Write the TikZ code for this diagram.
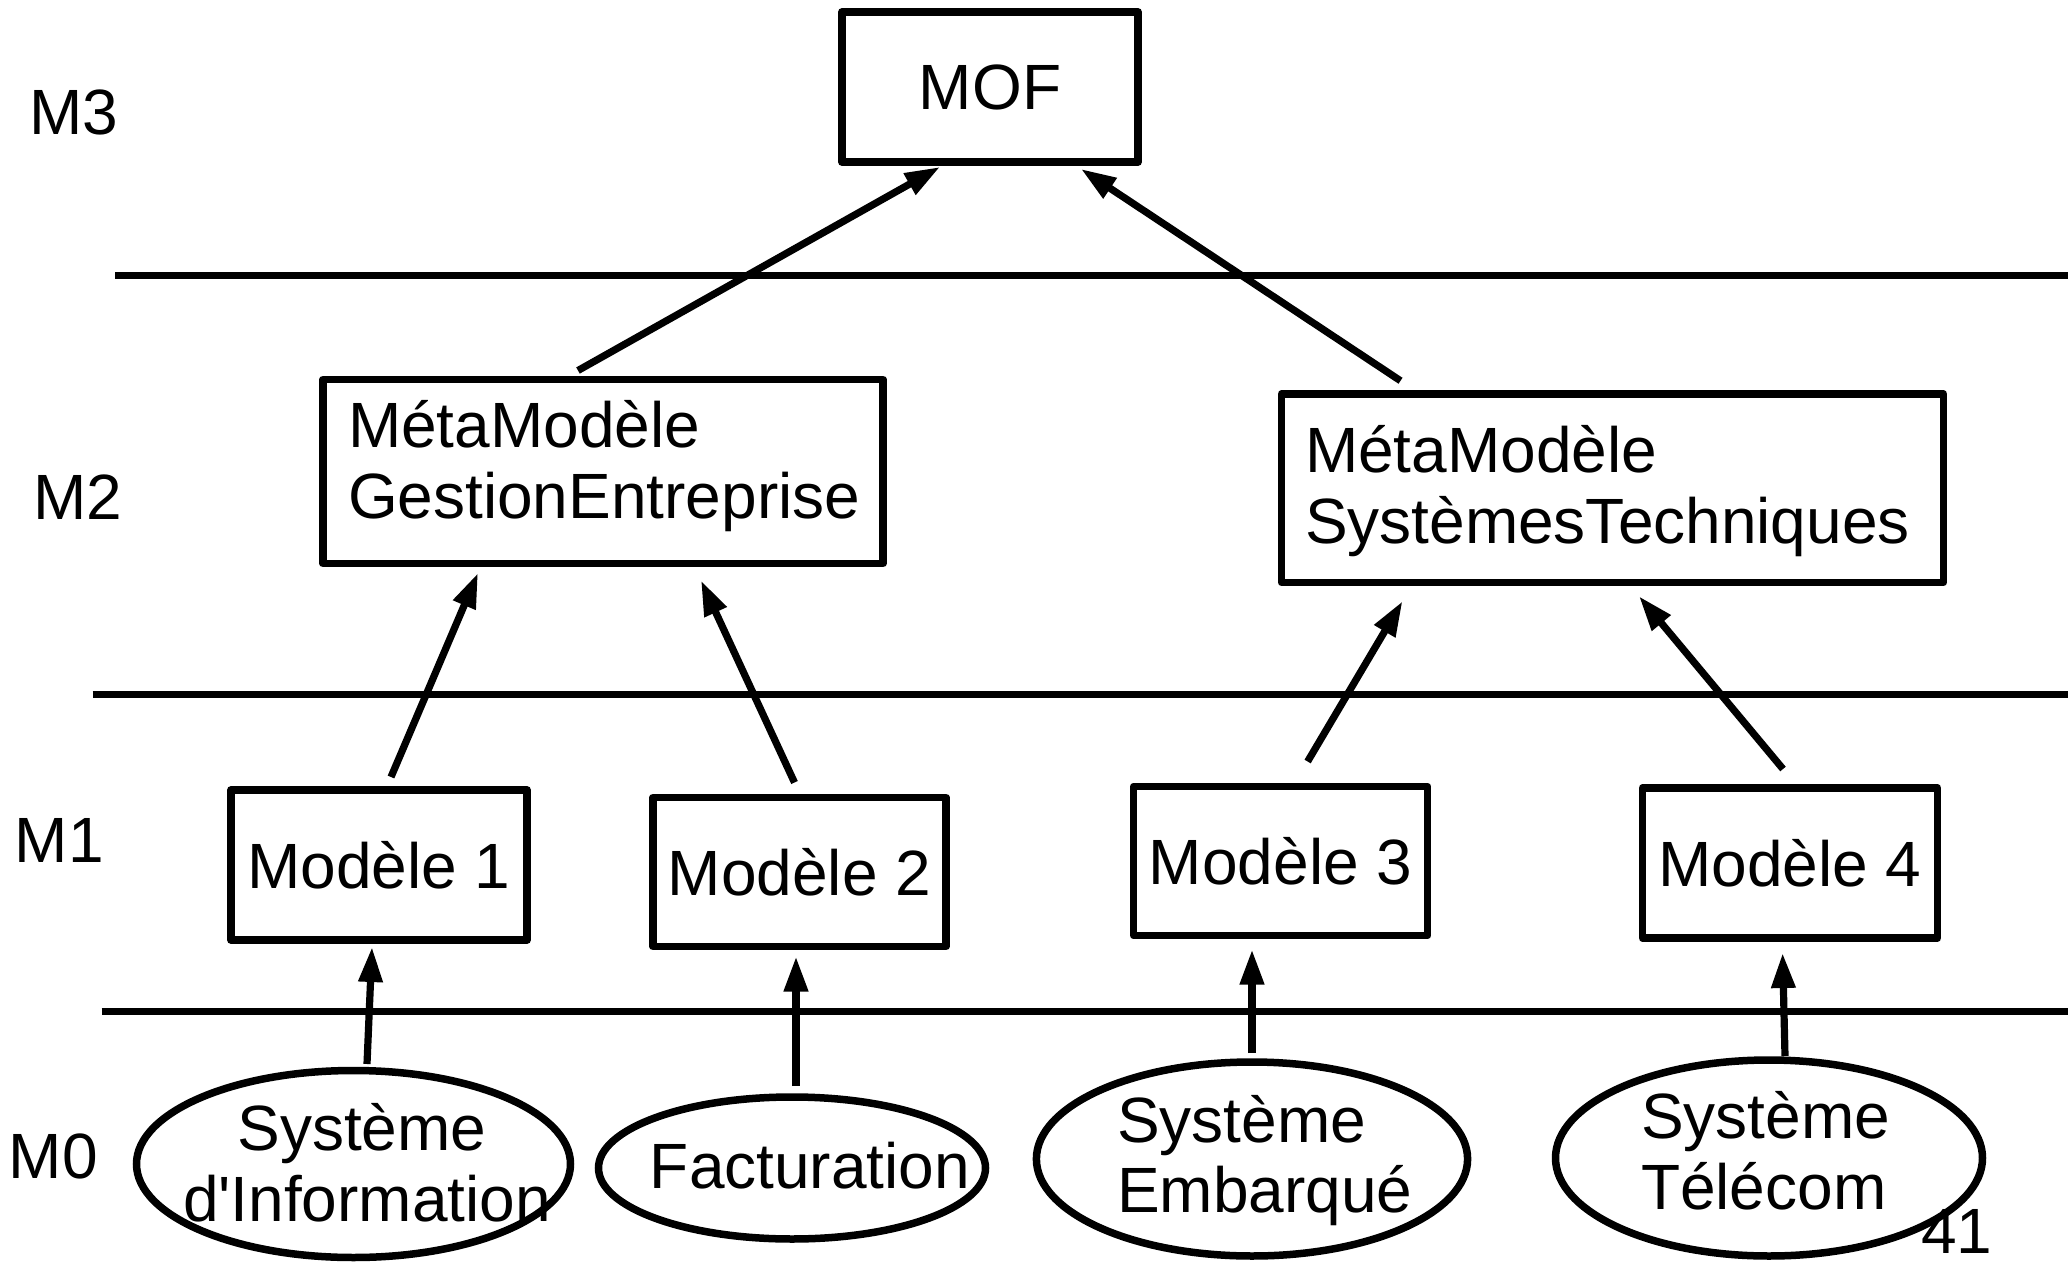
\documentclass[tikz,border=0pt]{standalone}
\usepackage{fontspec}
\setmainfont{Liberation Sans}[Ligatures=TeXOff]
\usetikzlibrary{arrows.meta,shapes.geometric}
\begin{document}
\begin{tikzpicture}[x=0.5pt,y=-0.5pt,
  every node/.style={font=\fontsize{32}{35.5}\selectfont},
  box/.style={draw, rectangle, line width=3.75pt, line join=round, inner sep=0pt, outer sep=0pt},
  oval/.style={draw, ellipse, line width=3.75pt, inner sep=0pt, outer sep=0pt},
  txt/.style={inner sep=0pt, outer sep=0pt, anchor=base west},
  ctxt/.style={inner sep=0pt, outer sep=0pt, anchor=base},
  arr/.style={line width=3.6pt, -{Triangle[length=17.5pt,width=11.5pt]}},
  level/.style={line width=3.5pt}]
\useasboundingbox (0,0) rectangle (2068,1263);

% level separators
\draw[level] (115,275.5) -- (2068,275.5);
\draw[level] (92.5,694) -- (2068,694);
\draw[level] (101.5,1011.5) -- (2068,1011.5);

% level labels
\node[txt] (l3) at (29,134) {M3};
\node[txt] (l2) at (33,519) {M2};
\node[txt] (l1) at (15,862) {M1};
\node[txt] (l0) at (9,1178) {M0};

% boxes
\node[box, minimum width=148pt, minimum height=75pt] (mof) at (990,87) {MOF};
\node[box, minimum width=280pt, minimum height=92pt] (gest) at (603,471.5) {};
\node[box, minimum width=331pt, minimum height=94.25pt] (tech) at (1612.5,488) {};
\node[box, minimum width=148pt, minimum height=75pt] (m1) at (379,865) {Modèle 1};
\node[box, minimum width=146.5pt, minimum height=74.5pt] (m2) at (799.5,872) {Modèle 2};
\node[box, minimum width=147pt, minimum height=74.5pt] (m3) at (1280.6,861) {Modèle 3};
\node[box, minimum width=147.5pt, minimum height=75pt] (m4) at (1790,863) {Modèle 4};

\node[txt] (g1) at (348,447) {MétaModèle};
\node[txt] (g2) at (348,518) {GestionEntreprise};
\node[txt] (t1) at (1305,472) {MétaModèle};
\node[txt] (t2) at (1305,543) {SystèmesTechniques};

% ellipses
\node[oval, minimum width=217pt, minimum height=93.5pt] (si) at (353.5,1164) {};
\node[oval, minimum width=193.5pt, minimum height=71pt] (fact) at (792,1168) {};
\node[oval, minimum width=215.6pt, minimum height=97pt] (emb) at (1252,1159) {};
\node[oval, minimum width=213.5pt, minimum height=98pt] (tel) at (1769,1158) {};

\node[ctxt] (si1) at (362,1150) {Système};
\node[ctxt] (si2) at (367,1221) {d'Information};
\node[ctxt] (fa) at (810,1188) {Facturation};
\node[txt] (e1) at (1117,1142) {Système};
\node[txt] (e2) at (1117,1212) {Embarqué};
\node[txt] (te1) at (1641,1138) {Système};
\node[txt] (te2) at (1641,1209) {Télécom};
\node[txt] (pg) at (1921,1253) {41};

% arrows
\draw[arr] ([shift={(-25,-9)}]gest.north) -- ([shift={(-50,5)}]mof.south);
\draw[arr] ([shift={(-212,-13)}]tech.north) -- ([shift={(91,7)}]mof.south);
\draw[arr] ([shift={(12,-13)}]m1.north) -- ([shift={(-125,9.5)}]gest.south);
\draw[arr] ([shift={(-5,-15)}]m2.north) -- ([shift={(98,17)}]gest.south);
\draw[arr] ([shift={(27,-25)}]m3.north) -- ([shift={(-210,19)}]tech.south);
\draw[arr] ([shift={(-7,-19)}]m4.north) -- ([shift={(26.5,14)}]tech.south);
\draw[arr] ([shift={(13.5,-6.5)}]si.north) -- ([shift={(-7,7)}]m1.south);
\draw[arr] ([shift={(4,-11)}]fact.north) -- ([shift={(-3.5,10)}]m2.south);
\draw[arr] ([shift={(0,-9)}]emb.north) -- ([shift={(-28.6,14)}]m3.south);
\draw[arr] ([shift={(16,-4)}]tel.north) -- ([shift={(-7.4,15)}]m4.south);
\end{tikzpicture}
\end{document}
